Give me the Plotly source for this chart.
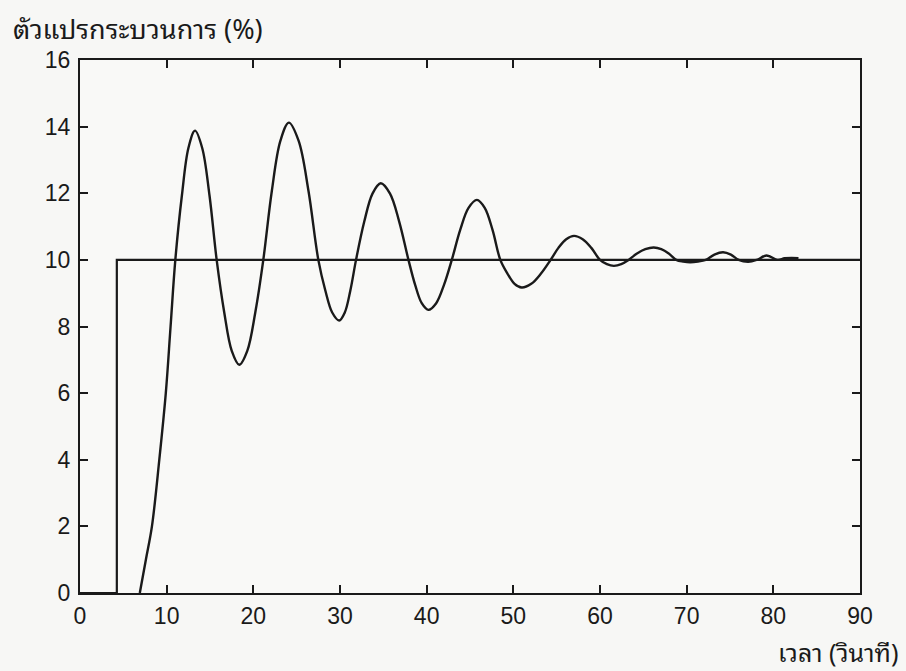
import plotly.graph_objects as go

# Set point (step input)
setpoint_t = [0, 4.25, 4.25, 90]
setpoint_y = [0, 0, 10, 10]

# Process variable response
pv_t = [6.9, 7.6, 8.3, 9.15, 9.9, 10.45, 11.0, 11.76, 12.51, 13.27,
        14.1, 14.94, 15.77, 16.64, 17.51, 18.38, 19.3, 20.23, 21.15,
        22.13, 23.12, 24.1, 25.23, 26.37, 27.5, 28.3, 29.1, 29.9,
        30.55, 31.2, 31.85, 32.8, 33.75, 34.7, 35.77, 36.83, 37.9,
        38.67, 39.43, 40.2, 41.1, 42.0, 42.9, 43.87, 44.83, 45.8,
        46.7, 47.6, 48.5, 49.32, 50.14, 50.96, 52.07, 53.19, 54.3,
        55.2, 56.1, 57.0, 58.0, 59.0, 60.0, 60.8, 61.6, 62.45, 63.3,
        64.27, 65.23, 66.2, 67.07, 67.93, 68.8, 69.6, 70.4, 71.3, 72.2,
        73.2, 74.2, 75.1, 76.0, 77.1, 78.1, 79.2, 80.5, 81.3, 82.1, 82.9]
pv_y = [0.0, 1.0, 2.0, 4.0, 6.0, 8.0, 10.0, 11.94, 13.36, 13.88,
        13.36, 11.94, 10.0, 8.43, 7.27, 6.85, 7.27, 8.43, 10.0,
        12.06, 13.57, 14.12, 13.57, 12.06, 10.0, 9.09, 8.42, 8.18,
        8.42, 9.09, 10.0, 11.15, 11.99, 12.3, 11.99, 11.15, 10.0,
        9.25, 8.7, 8.5, 8.7, 9.25, 10.0, 10.9, 11.56, 11.8,
        11.56, 10.9, 10.0, 9.59, 9.28, 9.17, 9.28, 9.59, 10.0,
        10.36, 10.62, 10.72, 10.62, 10.36, 10.0, 9.87, 9.82, 9.87, 10.0,
        10.19, 10.32, 10.37, 10.32, 10.19, 10.0, 9.95, 9.93, 9.95, 10.0,
        10.16, 10.23, 10.16, 10.0, 9.94, 10.0, 10.13, 10.0, 10.05, 10.06, 10.05]

x_ticks = [0, 10, 20, 30, 40, 50, 60, 70, 80, 90]
y_ticks = [0, 2, 4, 6, 8, 10, 12, 14, 16]

ink = "#1a1a1a"
thai_font = "Noto Sans Thai Looped, Noto Sans Thai, Noto Sans, DejaVu Sans, sans-serif"
num_font = "Liberation Sans, Arial, sans-serif"

fig = go.Figure()
fig.add_trace(go.Scatter(x=setpoint_t, y=setpoint_y, mode="lines",
                         line=dict(color=ink, width=2.2), showlegend=False))
fig.add_trace(go.Scatter(x=pv_t, y=pv_y, mode="lines",
                         line=dict(color=ink, width=2.4, shape="spline", smoothing=1.0),
                         showlegend=False))

axis_common = dict(showgrid=False, zeroline=False, showline=True, linecolor=ink,
                   linewidth=2, mirror="ticks", ticks="inside", ticklen=8,
                   tickwidth=2, tickcolor=ink,
                   tickfont=dict(family=num_font, size=23, color=ink))

fig.update_xaxes(range=[0, 90], tickvals=x_ticks, ticklabelstandoff=1, **axis_common)
fig.update_yaxes(range=[0, 16], tickvals=y_ticks, ticklabelstandoff=3, **axis_common)

fig.add_annotation(text="ตัวแปรกระบวนการ (%)", xref="paper", yref="paper",
                   x=-0.088, y=1.063, xanchor="left", yanchor="middle",
                   showarrow=False, font=dict(family=thai_font, size=27, color=ink))
fig.add_annotation(text="เวลา (วินาที)", xref="paper", yref="paper",
                   x=1.051, y=-0.108, xanchor="right", yanchor="middle",
                   showarrow=False, font=dict(family=thai_font, size=25, color=ink))

fig.update_layout(width=906, height=671,
                  margin=dict(l=80, r=46, t=60, b=78),
                  paper_bgcolor="#f7f7f5", plot_bgcolor="#f9f9f7")

fig.write_html("out.html")
